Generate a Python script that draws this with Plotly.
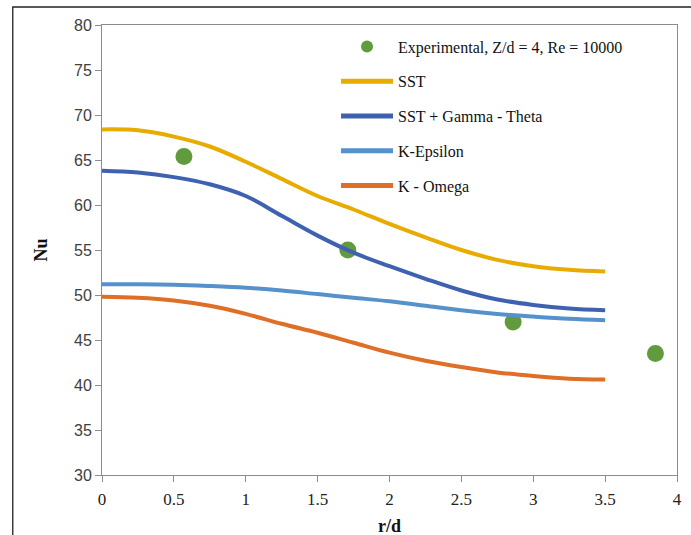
import plotly.graph_objects as go

# Data
exp_x = [0.57, 1.71, 2.86, 3.85]
exp_y = [65.4, 55.0, 47.0, 43.5]

r_grid = [0, 0.25, 0.5, 0.75, 1.0, 1.25, 1.5, 1.75, 2.0, 2.25, 2.5, 2.75, 3.0, 3.25, 3.5]
sst = [68.4, 68.3, 67.6, 66.5, 64.8, 62.9, 61.0, 59.5, 57.9, 56.4, 55.0, 53.9, 53.2, 52.8, 52.6]
sst_gt = [63.8, 63.6, 63.1, 62.3, 61.0, 58.8, 56.6, 54.7, 53.2, 51.8, 50.5, 49.5, 48.9, 48.5, 48.3]
k_eps = [51.2, 51.2, 51.15, 51.0, 50.8, 50.5, 50.1, 49.7, 49.3, 48.8, 48.3, 47.9, 47.6, 47.35, 47.2]
k_omega = [49.8, 49.7, 49.4, 48.8, 47.9, 46.8, 45.8, 44.7, 43.6, 42.7, 42.0, 41.4, 41.0, 40.7, 40.6]

x_ticks = [0, 0.5, 1, 1.5, 2, 2.5, 3, 3.5, 4]
y_ticks = [30, 35, 40, 45, 50, 55, 60, 65, 70, 75, 80]

fig = go.Figure()
fig.add_trace(go.Scatter(x=exp_x, y=exp_y, mode="markers",
                         name="Experimental, Z/d = 4, Re = 10000",
                         marker=dict(color="#629B3E", size=17), legendgroup="a"))
for name, ys, col, g in [("SST", sst, "#E8AB00", "b"),
                         ("SST + Gamma - Theta", sst_gt, "#3E62B0", "c"),
                         ("K-Epsilon", k_eps, "#5591CB", "d"),
                         ("K - Omega", k_omega, "#DF6E27", "e")]:
    fig.add_trace(go.Scatter(x=r_grid, y=ys, mode="lines", name=name,
                             line=dict(color=col, width=4, shape="spline"),
                             legendgroup=g))

axis_common = dict(showgrid=False, zeroline=False, showline=True, linecolor="#8c8c8c",
                   linewidth=1, mirror=True, ticks="outside", ticklen=6, tickcolor="#8c8c8c")

fig.update_xaxes(range=[0, 4], tickvals=x_ticks, ticktext=[str(v) for v in x_ticks],
                 tickfont=dict(family="Liberation Serif", size=17, color="#222"),
                 ticklabelstandoff=3,
                 **axis_common)
fig.update_yaxes(range=[30, 80], tickvals=y_ticks,
                 tickfont=dict(family="Liberation Sans", size=16, color="#404040"),
                 **axis_common)

fig.add_annotation(text="<b>Nu</b>", xref="paper", yref="paper",
                   x=-(102 - 40) / 580, y=0.5, showarrow=False, textangle=-90,
                   xanchor="center", yanchor="middle",
                   font=dict(family="Liberation Serif", size=18, color="#111"))
fig.add_annotation(text="<b>r/d</b>", xref="paper", yref="paper",
                   x=0.5, y=-(526 - 475) / 450, showarrow=False,
                   xanchor="center", yanchor="middle",
                   font=dict(family="Liberation Serif", size=18, color="#111"))

# outer chart border
fig.add_shape(type="rect", xref="paper", yref="paper",
              x0=-(102 - 12) / 580, x1=(700 - 102) / 580,
              y0=-(545 - 475) / 450, y1=1 + (25 - 7) / 450,
              line=dict(color="#222", width=1.3), layer="below")

fig.update_layout(
    width=691, height=535,
    margin=dict(l=102, r=9, t=25, b=60),
    paper_bgcolor="white", plot_bgcolor="white",
    showlegend=True,
    legend=dict(x=0.407, y=0.99, xanchor="left", yanchor="top",
                bgcolor="rgba(0,0,0,0)", tracegroupgap=11, itemsizing="constant",
                font=dict(family="Liberation Serif", size=16, color="#111"),
                itemwidth=52),
)

fig.write_html("out.html")
